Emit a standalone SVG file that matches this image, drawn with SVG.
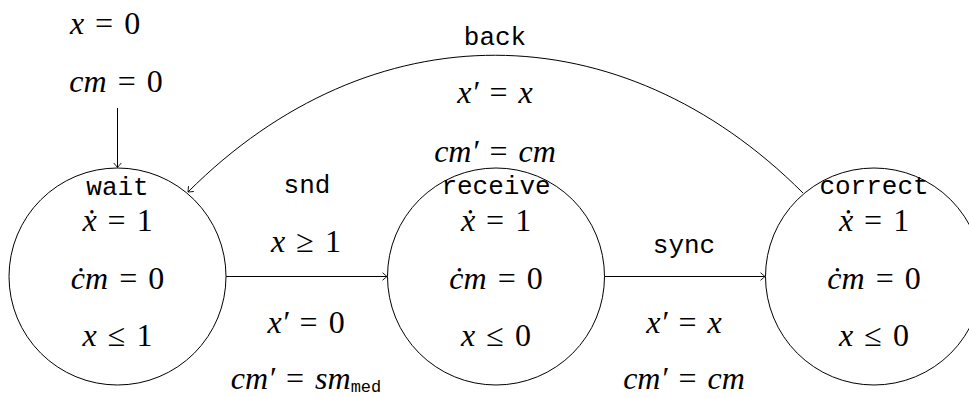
<svg xmlns="http://www.w3.org/2000/svg" width="969" height="398" viewBox="0 0 969 398">
<style>
.m{font-family:"Liberation Serif","DejaVu Serif",serif;font-size:32px;font-style:italic;text-anchor:middle;word-spacing:3px;fill:#000}
.r{font-style:normal}
.t{font-family:"Liberation Mono","DejaVu Sans Mono",monospace;font-size:26px;text-anchor:middle;fill:#000}
.s{font-family:"Liberation Mono","DejaVu Sans Mono",monospace;font-size:17px;font-style:normal}
.n{fill:none;stroke:#000;stroke-width:1}
.e{fill:none;stroke:#000;stroke-width:1;marker-end:url(#ah)}
</style>
<defs>
<marker id="ah" markerWidth="10" markerHeight="10" refX="0" refY="0" viewBox="-6 -5 8 10" orient="auto" markerUnits="userSpaceOnUse">
<path d="M -4.5 -3.8 Q -1.2 -1 0 0 Q -1.2 1 -4.5 3.8" fill="none" stroke="#000" stroke-width="0.9"/>
</marker>
</defs>
<rect width="969" height="398" fill="#fff"/>
<g id="init">
<text class="m" x="105" y="34">x <tspan class="r">= 0</tspan></text>
<text class="m" x="116" y="92">cm <tspan class="r">= 0</tspan></text>
</g>
<g id="connectors">
<line class="e" x1="117.5" y1="108" x2="117.5" y2="167.5"/>
<line class="e" x1="226" y1="276.5" x2="387" y2="276.5"/>
<line class="e" x1="604.5" y1="276.5" x2="765" y2="276.5"/>
<path class="e" d="M 803 193 C 620 10, 371 9, 188 192"/>
</g>
<g id="edge-labels">
<text class="t" x="495" y="45">back</text>
<text class="m" x="495" y="103">x′ <tspan class="r">=</tspan> x</text>
<text class="m" x="495" y="162">cm′ <tspan class="r">=</tspan> cm</text>
<text class="t" x="307" y="193">snd</text>
<text class="m" x="306" y="252">x <tspan class="r">≥ 1</tspan></text>
<text class="m" x="306" y="333">x′ <tspan class="r">= 0</tspan></text>
<text class="m" x="306" y="389">cm′ <tspan class="r">=</tspan> sm<tspan class="s" dy="3">med</tspan></text>
<text class="t" x="684" y="253">sync</text>
<text class="m" x="684" y="333">x′ <tspan class="r">=</tspan> x</text>
<text class="m" x="684" y="389">cm′ <tspan class="r">=</tspan> cm</text>
</g>
<g id="wait">
<circle class="n" cx="117.5" cy="276.5" r="108.5"/>
<text class="t" x="117.5" y="195">wait</text>
<text class="m" x="117.5" y="231">ẋ <tspan class="r">= 1</tspan></text>
<text class="m" x="117.5" y="289">ċm <tspan class="r">= 0</tspan></text>
<text class="m" x="117.5" y="346">x <tspan class="r">≤ 1</tspan></text>
</g>
<g id="receive">
<circle class="n" cx="496" cy="276.5" r="108.5"/>
<text class="t" x="496" y="194">receive</text>
<text class="m" x="496" y="231">ẋ <tspan class="r">= 1</tspan></text>
<text class="m" x="496" y="289">ċm <tspan class="r">= 0</tspan></text>
<text class="m" x="496" y="346">x <tspan class="r">≤ 0</tspan></text>
</g>
<g id="correct">
<circle class="n" cx="874" cy="276.5" r="108.5"/>
<text class="t" x="874" y="194">correct</text>
<text class="m" x="874" y="231">ẋ <tspan class="r">= 1</tspan></text>
<text class="m" x="874" y="289">ċm <tspan class="r">= 0</tspan></text>
<text class="m" x="874" y="346">x <tspan class="r">≤ 0</tspan></text>
</g>
</svg>
